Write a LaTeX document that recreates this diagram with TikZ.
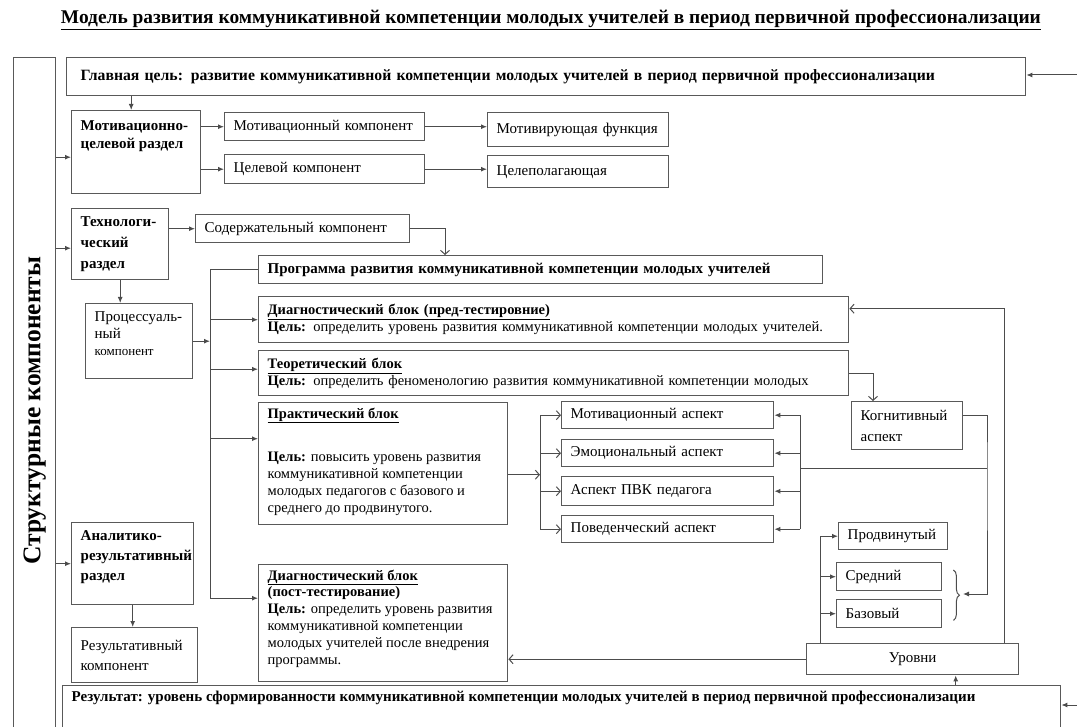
\documentclass[tikz,border=0pt]{standalone}
\usepackage{fontspec}
\setmainfont{Liberation Serif}
\usetikzlibrary{arrows.meta,decorations.pathreplacing}
\newcommand{\tx}{\fontsize{15}{17}\selectfont}
\newcommand{\tn}{\fontsize{14.5}{16.8}\selectfont}
\newcommand{\sm}{\fontsize{13}{16}\selectfont}
\newcommand{\ttl}{\fontsize{19.4}{22}\selectfont\bfseries}
\newcommand{\topbox}[3]{\parbox[c][#1][t]{#2}{\raggedright\vspace{5pt}#3}}

\begin{document}
\begin{tikzpicture}[x=1pt,y=-1pt,
  box/.style={draw=black!65,line width=1.4pt,anchor=north west,inner xsep=9pt,inner ysep=0pt,font=\tx},
  lbox/.style={box,align=left},
  ln/.style={draw=black!70,line width=1pt},
  fa/.style={ln,-{Latex[length=6pt,width=5pt]}},
  oa/.style={ln,-{Straight Barb[length=4pt,width=9pt]}}]
  \useasboundingbox (0,0) rectangle (1077,727);
  \clip (0,0) rectangle (1077,727);
  \node[font=\ttl] (title) at (551,20) {\underline{Модель развития  коммуникативной компетенции  молодых учителей в период первичной профессионализации}};

  % left column
  \node[box,minimum width=42pt,minimum height=706pt,inner xsep=0pt] (struct) at (13,57) {\rotatebox{90}{\fontsize{25.5}{27}\selectfont\bfseries Структурные компоненты}};
  \node[lbox,text width=931pt,inner xsep=14pt,minimum height=38pt,font=\fontsize{15.7}{18}\selectfont\bfseries] (goal) at (66,57) {Главная цель: развитие коммуникативной компетенции  молодых учителей в период первичной профессионализации};
  \node[box,font=\tx\bfseries] (mc) at (71,110) {\topbox{83pt}{111pt}{\vspace{5pt}Мотивационно-\\[1pt]целевой раздел}};
  \node[lbox,text width=182pt,minimum height=28pt] (mk) at (224,112) {Мотивационный компонент};
  \node[lbox,text width=182pt,minimum height=29pt] (ck) at (224,154) {Целевой  компонент};
  \node[lbox,text width=163pt,minimum height=34pt] (mf) at (487,112) {Мотивирующая функция};
  \node[lbox,text width=163pt,minimum height=32pt] (cp) at (487,155) {Целеполагающая};

  \node[box,font=\tx\bfseries] (tr) at (71,208) {\topbox{71pt}{79pt}{\vspace{3pt}Технологи-\\[4pt]ческий\\[4pt]раздел}};
  \node[lbox,text width=196pt,minimum height=28pt] (sk) at (195,214) {Содержательный компонент};
  \node[box] (pk) at (85,303) {\topbox{75pt}{89pt}{\vspace{3pt}Процессуаль-\\ный\\{\sm компонент}}};
  \node[box] (ar) at (71,522) {\topbox{82pt}{104pt}{\bfseries\vspace{3pt}Аналитико-\\[3pt]результативный\\[3pt]раздел}};
  \node[lbox,text width=108pt,minimum height=55pt] (rk) at (71,627) {Результативный\\[3pt]компонент};

  % blocks
  \node[lbox,text width=546pt,minimum height=28pt,font=\tx\bfseries] (prog) at (258,255) {Программа развития  коммуникативной компетенции молодых учителей};
  \node[lbox,text width=572pt,minimum height=46pt,font=\tn] (d1) at (258,296) {\textbf{\underline{Диагностический блок  (пред-тестировние)}}\\\textbf{Цель:} определить уровень развития коммуникативной компетенции молодых учителей.};
  \node[lbox,text width=572pt,minimum height=45pt,font=\tn] (th) at (258,350) {\textbf{\underline{Теоретический блок}}\\\textbf{Цель:} определить феноменологию развития коммуникативной компетенции молодых};
  \node[box,font=\tn] (pr) at (258,402) {\topbox{122pt}{231pt}{\textbf{\underline{Практический блок}}\\[27pt]\mbox{\textbf{Цель:} повысить уровень развития}\\\mbox{коммуникативной компетенции}\\\mbox{молодых педагогов с базового и}\\среднего до продвинутого.}};
  \node[box,font=\tn] (d2) at (258,564) {\topbox{117pt}{231pt}{\textbf{\underline{Диагностический блок}}\\\textbf{(пост-тестирование)}\\\mbox{\textbf{Цель:} определить уровень развития}\\\mbox{коммуникативной компетенции}\\\mbox{молодых учителей после внедрения}\\программы.}};

  % aspects
  \node[lbox,text width=194pt,minimum height=27pt] (a1) at (561,401) {Мотивационный  аспект};
  \node[lbox,text width=194pt,minimum height=27pt] (a2) at (561,439) {Эмоциональный аспект};
  \node[lbox,text width=194pt,minimum height=29pt] (a3) at (561,476) {Аспект  ПВК педагога};
  \node[lbox,text width=194pt,minimum height=27pt] (a4) at (561,515) {Поведенческий  аспект};
  \node[lbox,text width=93pt,minimum height=48pt] (ka) at (851,401) {Когнитивный\\[4pt]аспект};

  % levels
  \node[lbox,text width=91pt,minimum height=27pt] (l1) at (838,522) {Продвинутый};
  \node[lbox,text width=87pt,minimum height=28pt] (l2) at (836,562) {Средний};
  \node[lbox,text width=87pt,minimum height=28pt] (l3) at (836,599) {Базовый};
  \node[box,align=center,text width=194pt,minimum height=31pt] (ur) at (806,643) {Уровни};
  \node[box,font=\tx\bfseries] (res) at (62,685) {\topbox{75pt}{980pt}{Результат: уровень сформированности коммуникативной компетенции  молодых учителей в период первичной профессионализации}};

  \coordinate (rin1) at (1077,75);
  \coordinate (rin2) at (1077,705);
  \coordinate (bus) at (210,0);
  \coordinate (fan) at (540,0);
  \coordinate (rbus) at (800,0);
  \coordinate (lv) at (820,0);
  \coordinate (hj) at (987,468);
  \coordinate (brtip) at (963,594);

  % connectors
  \draw[fa] (rin1) -- (rin1 -| goal.east);
  \draw[fa] (rin2) -- (rin2 -| res.east);
  \draw[fa] ([yshift=-5pt]struct.east |- mc.west) -- ([yshift=-5pt]mc.west);
  \draw[fa] ([yshift=-4pt]struct.east |- tr.west) -- ([yshift=-4pt]tr.west);
  \draw[fa] (struct.east |- ar.west) -- (ar.west);
  \draw[fa] ([xshift=-5pt]mc.north |- goal.south) -- ([xshift=-5pt]mc.north);
  \draw[fa] (mk.west -| mc.east) -- (mk.west);
  \draw[fa] (ck.west -| mc.east) -- (ck.west);
  \draw[fa] (mk.east) -- (mk.east -| mf.west);
  \draw[fa] (ck.east) -- (ck.east -| cp.west);
  \draw[fa] (sk.west -| tr.east) -- (sk.west);
  \draw[oa] (sk.east) -| ([xshift=187pt]prog.north west);
  \draw[fa] (tr.south) -- (tr.south |- pk.north);
  \draw[fa] (ar.south) -- (ar.south |- rk.north);

  \draw[fa] (pk.east) -- (pk.east -| bus);
  \draw[ln] (prog.west) -- (prog.west -| bus) -- ([yshift=25pt]d2.west -| bus);
  \draw[fa] ([yshift=25pt]d2.west -| bus) -- ([yshift=25pt]d2.west);
  \draw[fa] (d1.west -| bus) -- (d1.west);
  \draw[fa] ([yshift=4pt]th.west -| bus) -- ([yshift=4pt]th.west);
  \draw[fa] ([yshift=25pt]pr.west -| bus) -- ([yshift=25pt]pr.west);

  \draw[oa] ([yshift=-11pt]pr.east) -- ([yshift=-11pt]pr.east -| fan);
  \draw[ln] (a1.west -| fan) -- (a4.west -| fan);
  \foreach \a in {a1,a2,a3,a4} {
    \draw[oa] (\a.west -| fan) -- (\a.west);
    \draw[fa] (\a.east -| rbus) -- (\a.east);
  }
  \draw[ln] (a1.east -| rbus) -- (a4.east -| rbus);
  \draw[ln] (hj) -- (hj -| rbus);
  \draw[oa] (th.east) -| ([xshift=22pt]ka.north west);
  \draw[fa] ([yshift=10pt]ka.east) -| (hj) |- (brtip);
  \draw[decorate,decoration={brace,amplitude=6pt},ln] ([xshift=11pt,yshift=-8pt]l2.north east) -- ([xshift=11pt,yshift=8pt]l3.south east);

  \draw[ln] (ur.north -| lv) -- (l1.west -| lv);
  \foreach \l in {l1,l2,l3}
    \draw[fa] (\l.west -| lv) -- (\l.west);
  \draw[oa] ([xshift=-15pt]ur.north east) |- ([yshift=11pt]d1.east);
  \draw[oa] (ur.west) -- (ur.west -| d2.east);
  \draw[fa] ([xshift=43pt]ur.south |- res.north) -- ([xshift=43pt]ur.south);
\end{tikzpicture}
\end{document}
